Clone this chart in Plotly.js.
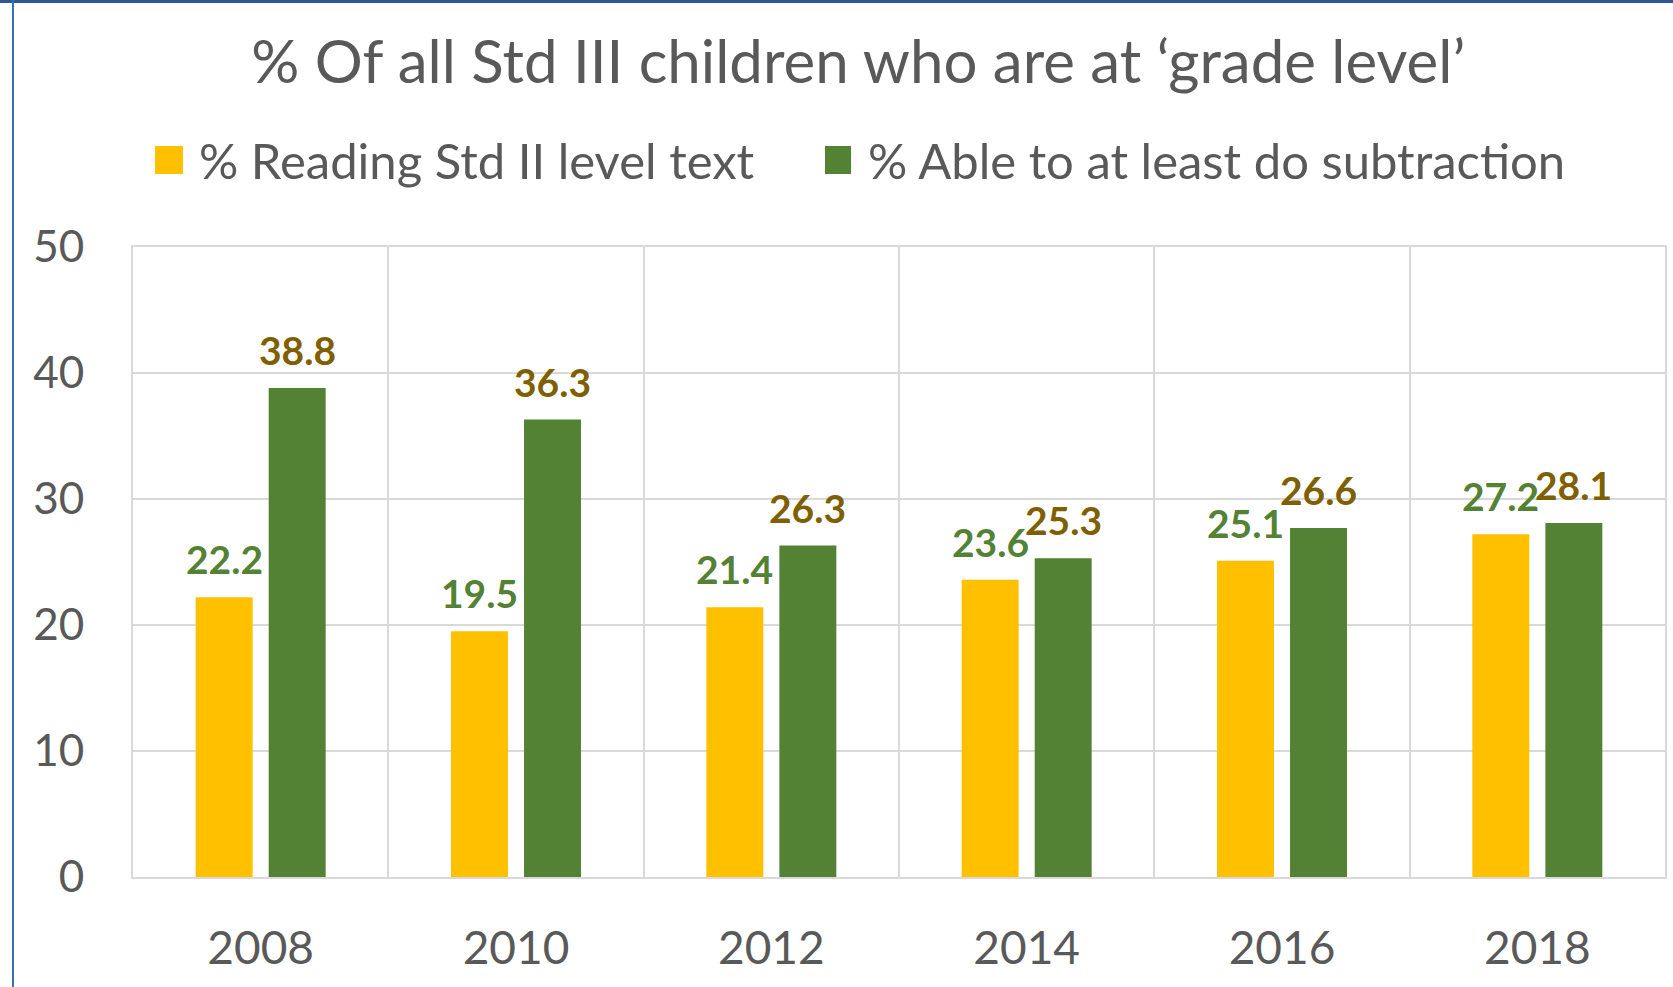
<!DOCTYPE html>
<html><head><meta charset="utf-8">
<script src="https://cdn.plot.ly/plotly-3.0.1.min.js"></script>
<style>
html,body{margin:0;padding:0;background:#fff;}
#wrap{position:relative;width:1673px;height:987px;overflow:hidden;}
#chart{position:absolute;left:0;top:0;width:1673px;height:987px;}
#topbar{position:absolute;left:0;top:0;width:1673px;height:3px;background:#2F5597;z-index:2}
#leftbar{position:absolute;left:12px;top:0;width:2px;height:987px;background:#2E75B6;z-index:2}
</style></head>
<body><div id="wrap"><div id="chart"></div><div id="topbar"></div><div id="leftbar"></div></div>
<script>
const years = ['2008','2010','2012','2014','2016','2018'];
const readingValues = [22.2, 19.5, 21.4, 23.6, 25.1, 27.2];
const subtractionValues = [38.8, 36.3, 26.3, 25.3, 27.7, 28.1];
const readingLabels = ['22.2','19.5','21.4','23.6','25.1','27.2'];
const subtractionLabels = ['38.8','36.3','26.3','25.3','26.6','28.1'];
const seriesNames = ['% Reading Std II level text', '% Able to at least do subtraction'];
const titleText = '% Of all Std III children who are at ‘grade level’';

const YELLOW = '#FFC000', GREEN = '#548235';
const LABEL_GREEN = '#548235', LABEL_GOLD = '#7F6000';
const GREY = '#595959', GRID = '#D9D9D9';
const FONT = 'Lato, "Open Sans", sans-serif';

const traces = [
  {type:'bar', name:seriesNames[0], x:years, y:readingValues, marker:{color:YELLOW}, hoverinfo:'skip', showlegend:false},
  {type:'bar', name:seriesNames[1], x:years, y:subtractionValues, marker:{color:GREEN}, hoverinfo:'skip', showlegend:false}
];

const annotations = [];
years.forEach((yr, i) => {
  annotations.push({x:i, y:readingValues[i], xref:'x', yref:'y', text:'<b>' + readingLabels[i] + '</b>', showarrow:false,
    xshift:-36.5, yshift:13, yanchor:'bottom', xanchor:'center',
    font:{family:FONT, size:39, color:LABEL_GREEN, weight:700}});
  annotations.push({x:i, y:subtractionValues[i], xref:'x', yref:'y', text:'<b>' + subtractionLabels[i] + '</b>', showarrow:false,
    xshift:36.5, yshift:13, yanchor:'bottom', xanchor:'center',
    font:{family:FONT, size:39, color:LABEL_GOLD, weight:700}});
});
// legend
const legendItems = [
  {color:YELLOW, name:seriesNames[0], x0:0.0144, x1:0.0326, tx:0.0418},
  {color:GREEN, name:seriesNames[1], x0:0.4517, x1:0.4687, tx:0.4785}
];
const shapes = [];
legendItems.forEach(it => {
  shapes.push({type:'rect', xref:'paper', yref:'paper', x0:it.x0, x1:it.x1, y0:1.1159, y1:1.1603,
    fillcolor:it.color, line:{width:0}});
  annotations.push({xref:'paper', yref:'paper', x:it.tx, y:1.138, xanchor:'left', yanchor:'middle',
    text:it.name, showarrow:false, font:{family:FONT, size:49, color:GREY}});
});

const layout = {
  width:1673, height:987,
  paper_bgcolor:'#fff', plot_bgcolor:'#fff',
  margin:{l:133, r:8, t:247, b:110},
  title:{text:titleText, x:0.513, xref:'container', xanchor:'center', y:0.937, yref:'container', yanchor:'middle',
    font:{family:FONT, size:60, color:GREY}},
  barmode:'group', bargap:0.428, bargroupgap:0.22,
  showlegend:false,
  xaxis:{type:'category', range:[-0.5, 5.5], tickson:'boundaries', showgrid:true, gridcolor:GRID, gridwidth:2,
    showline:true, linecolor:GRID, linewidth:2, mirror:true, ticks:'', ticklabelstandoff:30, tickangle:0,
    tickfont:{family:FONT, size:46, color:GREY}, fixedrange:true},
  yaxis:{range:[0,50], dtick:10, showgrid:true, gridcolor:GRID, gridwidth:2, zeroline:false,
    showline:true, linecolor:GRID, linewidth:2, mirror:true, ticks:'', ticklabelstandoff:38,
    tickfont:{family:FONT, size:44, color:GREY}, fixedrange:true},
  annotations:annotations, shapes:shapes
};
Plotly.newPlot('chart', traces, layout, {staticPlot:true, displayModeBar:false});
</script></body></html>
